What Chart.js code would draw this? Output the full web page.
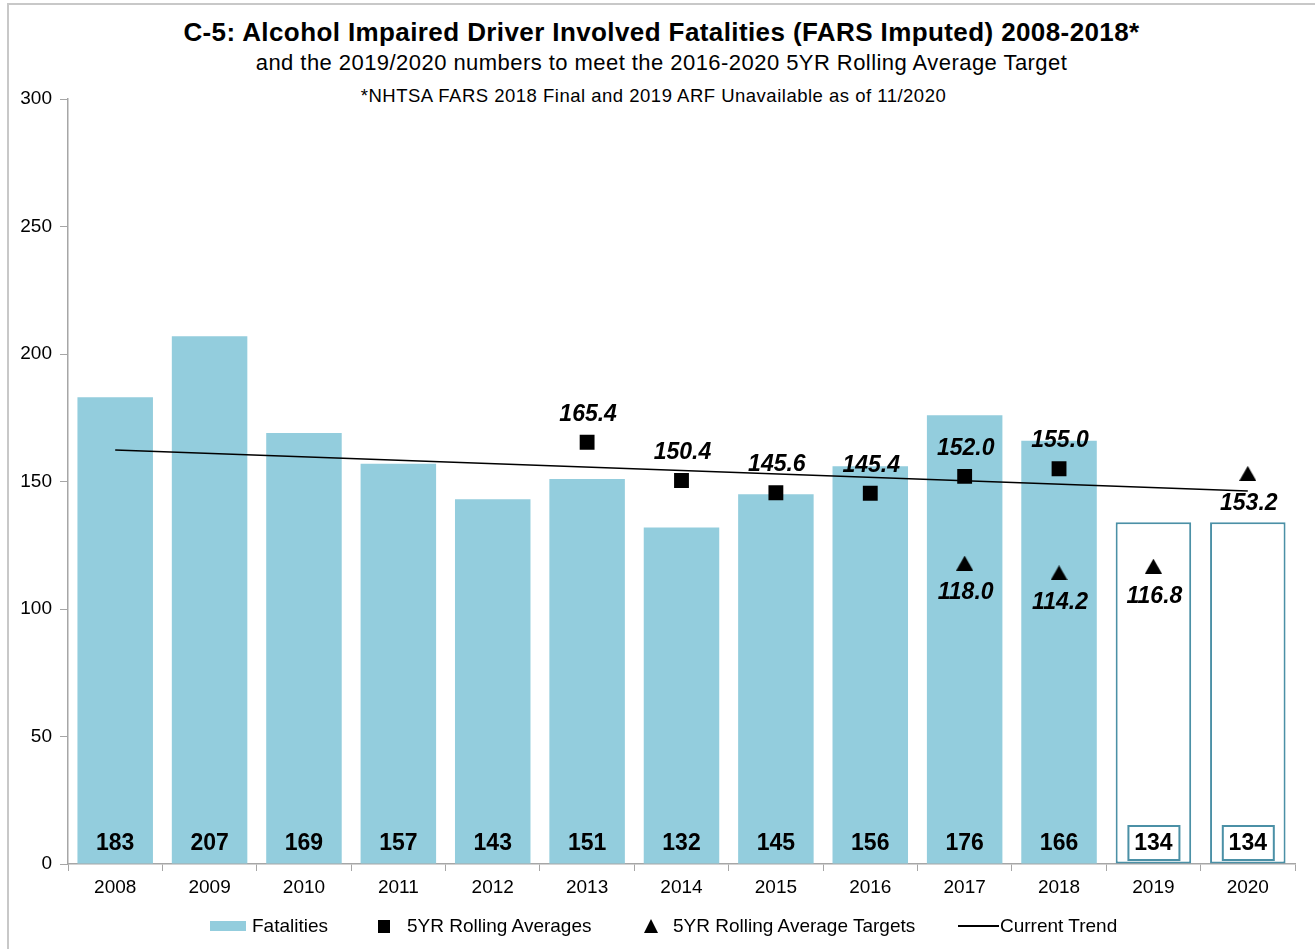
<!DOCTYPE html>
<html>
<head>
<meta charset="utf-8">
<script src="https://cdn.jsdelivr.net/npm/chart.js@4.4.1/dist/chart.umd.min.js"></script>
<style>
  html, body { margin: 0; padding: 0; background: #fff; }
  #wrap { position: relative; width: 1315px; height: 949px; font-family: "Liberation Sans", Arial, sans-serif; }
  #frame { position: absolute; left: 7px; top: 3px; right: -5px; bottom: -5px; border-left: 2px solid #c8c8c8; border-top: 2px solid #c8c8c8; }
  .ttl { position: absolute; width: 1315px; text-align: center; color: #000; white-space: nowrap; }
  #t1 { left: 4px; top: 17px; font-size: 26px; font-weight: bold; letter-spacing: 0.4px; }
  #t2 { left: 4px; top: 50px; font-size: 22px; letter-spacing: 0.45px; }
  #t3 { left: -4px; top: 85px; font-size: 18.5px; letter-spacing: 0.5px; }
  .lg { position: absolute; top: 915px; font-size: 19px; color: #000; white-space: nowrap; line-height: 22px; }
  .sw { position: absolute; background: #000; }
  canvas { position: absolute; left: 0; top: 0; }
</style>
</head>
<body>
<div id="wrap">
  <div id="frame"></div>
  <div class="ttl" id="t1">C-5: Alcohol Impaired Driver Involved Fatalities (FARS Imputed) 2008-2018*</div>
  <div class="ttl" id="t2">and the 2019/2020 numbers to meet the 2016-2020 5YR Rolling Average Target</div>
  <div class="ttl" id="t3">*NHTSA FARS 2018 Final and 2019 ARF Unavailable as of 11/2020</div>
  <canvas id="c" width="1315" height="949"></canvas>
  <span class="sw" style="left:210px;top:921px;width:36px;height:10px;background:#93cddd"></span>
  <span class="lg" style="left:252px">Fatalities</span>
  <span class="sw" style="left:378px;top:920px;width:12px;height:13px"></span>
  <span class="lg" style="left:407px">5YR Rolling Averages</span>
  <span class="sw" style="left:644px;top:919px;width:0;height:0;background:none;border-left:7px solid transparent;border-right:7px solid transparent;border-bottom:14px solid #000"></span>
  <span class="lg" style="left:673px">5YR Rolling Average Targets</span>
  <span class="sw" style="left:958px;top:925px;width:41px;height:2px"></span>
  <span class="lg" style="left:1000px">Current Trend</span>
</div>
<script>
// Chart data
const years = ['2008','2009','2010','2011','2012','2013','2014','2015','2016','2017','2018','2019','2020'];
const fatalities = [183, 207, 169, 157, 143, 151, 132, 145, 156, 176, 166, 134, 134];
const rollingAvg = [null, null, null, null, null, 165.4, 150.4, 145.6, 145.4, 152.0, 155.0, null, null];
const rollingTargets = [null, null, null, null, null, null, null, null, null, 118.0, 114.2, 116.8, 153.2];
const trend = [162.4, null, null, null, null, null, null, null, null, null, null, null, 146.3];
const targetYears = ['2019', '2020'];

const barBlue = '#93cddd';
const boxTeal = '#4b90a6';
const FONT = '"Liberation Sans", Arial, sans-serif';

// triangle marker centred on its box
const tri = document.createElement('canvas');
tri.width = 17; tri.height = 15;
const tctx = tri.getContext('2d');
tctx.fillStyle = '#000';
tctx.beginPath();
tctx.moveTo(8.5, 0);
tctx.lineTo(17, 15);
tctx.lineTo(0, 15);
tctx.closePath();
tctx.fill();

// Labels drawn onto the chart
const labelPlugin = {
  id: 'valueLabels',
  afterDatasetsDraw(chart) {
    const ctx = chart.ctx;
    ctx.save();
    ctx.textAlign = 'center';
    ctx.textBaseline = 'middle';
    ctx.fillStyle = '#000';

    // bar values at the bottom of bars
    const barMeta = chart.getDatasetMeta(3);
    ctx.font = 'bold 23px ' + FONT;
    barMeta.data.forEach((bar, i) => {
      const y = chart.chartArea.bottom - 21;
      if (targetYears.includes(years[i])) {
        ctx.strokeStyle = boxTeal;
        ctx.lineWidth = 2;
        ctx.fillStyle = '#fff';
        ctx.fillRect(bar.x - 25, y - 17, 51, 34);
        ctx.strokeRect(bar.x - 25, y - 17, 51, 34);
        ctx.fillStyle = '#000';
      }
      ctx.fillText(String(fatalities[i]), bar.x, y + 1);
    });

    // rolling averages above the squares, targets below triangles
    ctx.font = 'italic bold 23px ' + FONT;
    chart.getDatasetMeta(1).data.forEach((pt, i) => {
      if (rollingAvg[i] == null) return;
      ctx.fillText(rollingAvg[i].toFixed(1), pt.x + 1, pt.y - 28);
    });
    chart.getDatasetMeta(2).data.forEach((pt, i) => {
      if (rollingTargets[i] == null) return;
      ctx.fillText(rollingTargets[i].toFixed(1), pt.x + 1, pt.y + 30);
    });
    ctx.restore();
  }
};

new Chart(document.getElementById('c'), {
  type: 'bar',
  data: {
    labels: years,
    datasets: [
      {
        type: 'line',
        label: 'Current Trend',
        data: trend,
        borderColor: '#000',
        borderWidth: 1.5,
        pointRadius: 0,
        spanGaps: true,
        order: 0
      },
      {
        type: 'line',
        label: '5YR Rolling Averages',
        data: rollingAvg,
        showLine: false,
        pointStyle: 'rect',
        pointRadius: 10.5,
        backgroundColor: '#000',
        borderColor: '#000',
        borderWidth: 0,
        order: 1
      },
      {
        type: 'line',
        label: '5YR Rolling Average Targets',
        data: rollingTargets,
        showLine: false,
        pointStyle: tri,
        pointRadius: 9,
        backgroundColor: '#000',
        borderColor: '#000',
        borderWidth: 0,
        order: 2
      },
      {
        label: 'Fatalities',
        data: fatalities,
        backgroundColor: years.map(y => targetYears.includes(y) ? '#fff' : barBlue),
        borderColor: years.map(y => targetYears.includes(y) ? boxTeal : barBlue),
        borderWidth: years.map(y => targetYears.includes(y) ? 2 : 0),
        borderSkipped: false,
        barPercentage: 0.8,
        categoryPercentage: 1.0,
        order: 3
      }
    ]
  },
  options: {
    responsive: false,
    animation: false,
    layout: { padding: { top: 99, right: 20, bottom: 45, left: 0 } },
    plugins: {
      legend: { display: false },
      title: { display: false },
      tooltip: { enabled: false }
    },
    scales: {
      x: {
        grid: { display: true, drawOnChartArea: false, offset: true, tickLength: 7, color: '#a6a6a6' },
        border: { color: '#a6a6a6', width: 1.5 },
        ticks: { color: '#000', font: { family: FONT, size: 19 }, padding: 5, maxRotation: 0 },
        afterFit(axis) { axis.height = 40; }
      },
      y: {
        min: 0,
        max: 300,
        grid: { display: true, drawOnChartArea: false, tickLength: 8, color: '#a6a6a6' },
        border: { color: '#a6a6a6', width: 1.5 },
        ticks: { stepSize: 50, color: '#000', font: { family: FONT, size: 19 }, padding: 8 },
        afterFit(axis) { axis.width = 68; }
      }
    }
  },
  plugins: [labelPlugin]
});
</script>
</body>
</html>
